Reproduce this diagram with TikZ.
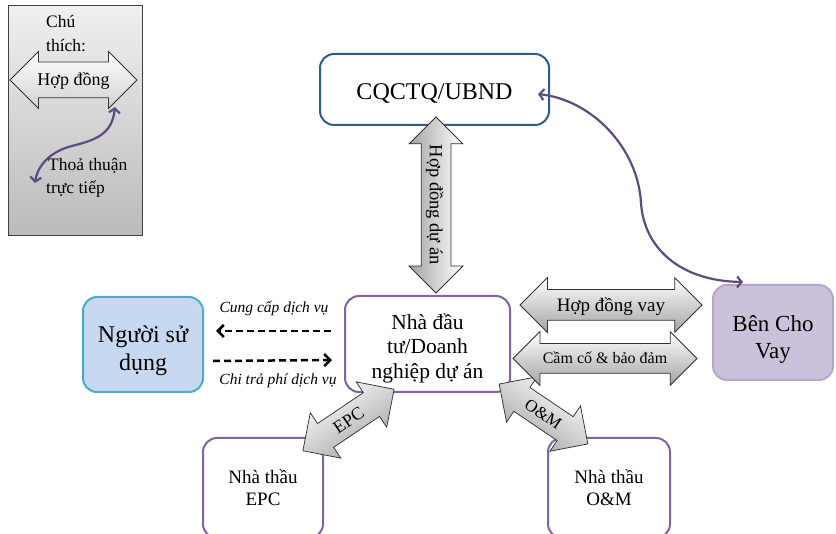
\documentclass[tikz,border=0pt]{standalone}
\usepackage{fontspec}
\setmainfont{Liberation Serif}
\usetikzlibrary{shapes.arrows,arrows.meta,calc}

\definecolor{cqblue}{HTML}{2F5C8F}
\definecolor{userfill}{HTML}{C6D9F1}
\definecolor{userline}{HTML}{4BACC6}
\definecolor{invline}{HTML}{8064A2}
\definecolor{lenderfill}{HTML}{CCC1DA}
\definecolor{lenderline}{HTML}{B5A6CC}
\definecolor{linkpurple}{HTML}{5F4A82}

\newcommand{\txtsize}[2]{\fontsize{#1}{#2}\selectfont}
% strut that fixes the height of a first text line
\newcommand{\firstline}[1]{\rule{0pt}{#1}}

\begin{document}
\begin{tikzpicture}[x=1pt,y=-1pt,
  party/.style={rectangle, rounded corners=14pt, line width=2pt, align=center, inner sep=0pt},
  invbox/.style={party, draw=invline, fill=white},
  blkarrow/.style={double arrow, double arrow tip angle=90, draw=black!80,
    line width=0.75pt, inner xsep=0pt, top color=white, bottom color=black!36},
  purplelink/.style={draw=linkpurple, line width=2.2pt,
    {Straight Barb[length=4.5pt,width=11pt]}-{Straight Barb[length=4.5pt,width=11pt]}},
  service/.style={draw=black, line width=2.5pt, dash pattern=on 7pt off 4pt,
    -{Straight Barb[length=6pt,width=12pt]}},
  servicelabel/.style={font=\itshape\txtsize{15.5}{18}, inner sep=0pt},
  legtext/.style={font=\txtsize{17.5}{21}, inner sep=0pt, anchor=west},
]
\useasboundingbox (0,0) rectangle (836,534);
\clip (0,0) rectangle (836,534);

% ---- legend ----
\node[draw=black!75, line width=1pt, top color=black!6, bottom color=black!27,
  minimum width=134pt, minimum height=230pt, inner sep=0pt] (legend) at (75,121) {};
\node[legtext] (chu) at (46,22) {Chú};
\node[legtext] (thich) at (46,46) {thích:};
\node[blkarrow, top color=white, bottom color=black!18, minimum height=127pt,
  double arrow head extend=10.5pt, text height=14.45pt, text depth=2.55pt,
  inner ysep=9pt, font=\txtsize{18}{21}] (legarrow) at (73.5,80) {Hợp đồng};
\coordinate (lgA) at (115,107);
\coordinate (lgB) at (35,183);
\draw[purplelink] (lgA) .. controls (112,135) and (95,140) .. (72,146)
  .. controls (48,152) and (37,168) .. (lgB);
\node[legtext] (thoa) at (48,166) {Thoả thuận};
\node[legtext] (truc) at (46,189) {trực tiếp};

% ---- parties ----
\node[party, draw=cqblue, fill=white, minimum width=229pt, minimum height=71pt,
  text height=23pt, text depth=3pt,
  font=\txtsize{24}{28}] (cq) at (434.5,89.5) {CQCTQ/UBND};
\node[party, draw=userline, fill=userfill, minimum width=120pt, minimum height=95pt,
  font=\txtsize{24}{28}] (user) at (143,344.5) {\firstline{29pt}Người sử\\dụng};
\node[invbox, minimum width=165pt, minimum height=96pt,
  font=\txtsize{21.5}{24.5}] (inv) at (427.5,344) {\firstline{24pt}Nhà đầu\\tư/Doanh\\nghiệp dự án};
\node[party, draw=lenderline, fill=lenderfill, minimum width=120pt, minimum height=95pt,
  font=\txtsize{23}{27}] (lender) at (773,332.5) {\firstline{30pt}Bên Cho\\Vay};
\node[invbox, minimum width=120pt, minimum height=100pt,
  font=\txtsize{19}{22}] (epc) at (263,488) {Nhà thầu\\EPC};
\node[invbox, minimum width=122pt, minimum height=100pt,
  font=\txtsize{19}{22}] (om) at (609,488) {Nhà thầu\\O\&M};

% ---- contract arrows ----
\node[blkarrow, rotate=34, shading angle=34, minimum height=110pt,
  double arrow head extend=13pt, text height=12.95pt, text depth=1.05pt,
  inner ysep=7pt, font=\txtsize{18}{21}] (epcarrow) at (348.5,420) {EPC};
\node[blkarrow, rotate=-34, shading angle=-34, minimum height=107pt,
  double arrow head extend=13pt, text height=12.95pt, text depth=1.05pt,
  inner ysep=7pt, font=\txtsize{17}{20}] (omarrow) at (543.5,414) {O\&M};
\node[blkarrow, rotate=-90, shading angle=-90, minimum height=176pt,
  double arrow head extend=12pt, text height=13.6pt, text depth=1.4pt,
  inner ysep=7pt, font=\txtsize{18.5}{21}] (projarrow) at (436,205) {Hợp đồng dự án};
\node[blkarrow, minimum height=182pt, double arrow head extend=12pt,
  text height=14.3pt, text depth=1.7pt, inner ysep=7pt,
  font=\txtsize{19}{22}] (loanarrow) at (611,305) {Hợp đồng vay};
\node[blkarrow, minimum height=184pt, double arrow head extend=12pt,
  text height=12.8pt, text depth=2.2pt, inner ysep=7pt,
  font=\txtsize{16}{19}] (pledgearrow) at (605,358.5) {Cầm cố \& bảo đảm};

% ---- services ----
\draw[service] ([xshift=-13pt,yshift=13pt]inv.west) -- ([xshift=12pt,yshift=13.5pt]user.east);
\draw[service] ([xshift=9pt,yshift=-16.5pt]user.east) -- ([xshift=-12pt,yshift=-16pt]inv.west);
\node[servicelabel] (supply) at (274,309) {Cung cấp dịch vụ};
\node[servicelabel] (pay) at (278,381) {Chi trả phí dịch vụ};

% ---- direct agreement ----
\draw[purplelink] ([xshift=-12pt,yshift=-4.5pt]cq.east) .. controls (592,100) and (638,148) .. (641,203)
  .. controls (644,248) and (680,281) .. ([xshift=-30pt,yshift=2pt]lender.north);
\end{tikzpicture}
\end{document}
